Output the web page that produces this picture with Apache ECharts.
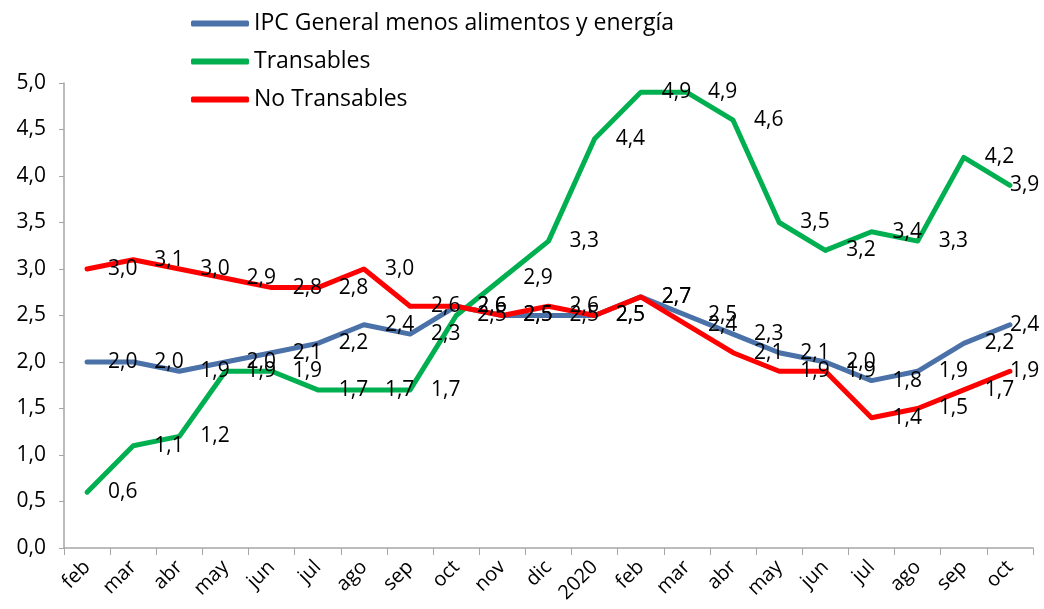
<!DOCTYPE html>
<html>
<head>
<meta charset="utf-8">
<script src="https://cdn.jsdelivr.net/npm/echarts@6/dist/echarts.min.js"></script>
<style>
  html, body { margin: 0; padding: 0; background: #ffffff; }
  #main { width: 1044px; height: 609px; }
</style>
</head>
<body>
<div id="main"></div>
<script>
// meses
var categories = ['feb', 'mar', 'abr', 'may', 'jun', 'jul', 'ago', 'sep', 'oct', 'nov', 'dic',
  '2020', 'feb', 'mar', 'abr', 'may', 'jun', 'jul', 'ago', 'sep', 'oct'];

var ipcSubyacente = [2.0, 2.0, 1.9, 2.0, 2.1, 2.2, 2.4, 2.3, 2.6, 2.5, 2.5,
  2.5, 2.7, 2.5, 2.3, 2.1, 2.0, 1.8, 1.9, 2.2, 2.4];
var transables = [0.6, 1.1, 1.2, 1.9, 1.9, 1.7, 1.7, 1.7, 2.5, 2.9, 3.3,
  4.4, 4.9, 4.9, 4.6, 3.5, 3.2, 3.4, 3.3, 4.2, 3.9];
var noTransables = [3.0, 3.1, 3.0, 2.9, 2.8, 2.8, 3.0, 2.6, 2.6, 2.5, 2.6,
  2.5, 2.7, 2.4, 2.1, 1.9, 1.9, 1.4, 1.5, 1.7, 1.9];

var yTicks = [0, 0.5, 1, 1.5, 2, 2.5, 3, 3.5, 4, 4.5, 5];

var FONT = '"Open Sans", sans-serif';

function coma(v) {
  return v.toFixed(1).replace('.', ',');
}

// etiquetas a la derecha, la ultima se queda dentro del grafico
function serieData(arr) {
  return arr.map(function (v, i) {
    if (i === arr.length - 1) {
      return { value: v, label: { distance: 0 } };
    }
    return v;
  });
}

function serie(name, arr, color) {
  return {
    name: name,
    type: 'line',
    data: serieData(arr),
    symbol: 'circle',
    symbolSize: 0,
    showSymbol: true,
    lineStyle: { color: color, width: 5, cap: 'round', join: 'round' },
    itemStyle: { color: color },
    label: {
      show: true,
      position: 'right',
      distance: 21,
      color: '#000',
      fontFamily: FONT,
      fontSize: 21,
      formatter: function (p) { return coma(p.value); }
    },
    emphasis: { disabled: true },
    animation: false
  };
}

var chart = echarts.init(document.getElementById('main'), null, { renderer: 'canvas' });

var option = {
  backgroundColor: '#ffffff',
  animation: false,
  legend: {
    orient: 'vertical',
    left: 186,
    top: 7,
    itemGap: 15,
    itemWidth: 58,
    itemHeight: 6,
    icon: 'roundRect',
    textStyle: { fontFamily: FONT, fontSize: 23, color: '#000' },
    data: ['IPC General menos alimentos y energía', 'Transables', 'No Transables']
  },
  grid: { left: 64, right: 11, top: 83, bottom: 61, containLabel: false },
  xAxis: {
    type: 'category',
    data: categories,
    boundaryGap: true,
    axisLine: { lineStyle: { color: '#a6a6a6', width: 1.5 } },
    axisTick: { show: true, alignWithLabel: false, length: 7, lineStyle: { color: '#a6a6a6' } },
    axisLabel: {
      interval: 0,
      rotate: 45,
      margin: 16,
      color: '#000',
      fontFamily: FONT,
      fontSize: 20
    }
  },
  yAxis: {
    type: 'value',
    min: 0,
    max: 5,
    interval: 0.5,
    splitLine: { show: false },
    axisLine: { show: true, lineStyle: { color: '#a6a6a6', width: 1.5 } },
    axisTick: { show: true, length: 5, lineStyle: { color: '#a6a6a6' } },
    axisLabel: {
      margin: 18,
      color: '#000',
      fontFamily: FONT,
      fontSize: 21,
      formatter: function (v) {
        return yTicks.indexOf(v) >= 0 ? coma(v) : '';
      }
    }
  },
  series: [
    serie('IPC General menos alimentos y energía', ipcSubyacente, '#4a71a8'),
    serie('Transables', transables, '#00b050'),
    serie('No Transables', noTransables, '#ff0000')
  ]
};

chart.setOption(option);
</script>
</body>
</html>
